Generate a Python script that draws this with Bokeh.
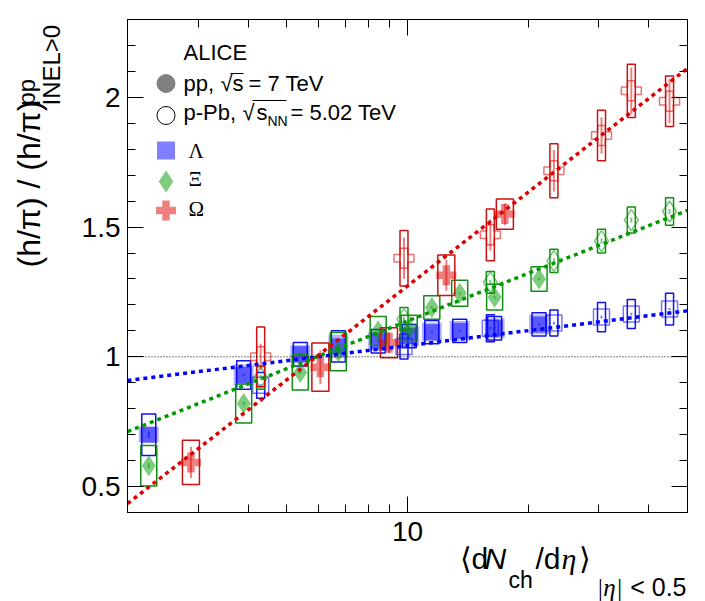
import math
from bokeh.plotting import figure
from bokeh.layouts import column, row
from bokeh.models import (FixedTicker, LinearAxis, LogAxis, Range1d, Label,
                          CustomJSTickFormatter, ColumnDataSource, Span)
from bokeh.embed import file_html
from bokeh.resources import INLINE

# ---------------- data ----------------
# pp, sqrt(s) = 7 TeV multiplicity classes
pp_x = [2.26, 3.90, 5.40, 6.72, 8.45, 10.1, 11.5, 13.5, 16.5, 21.3]
lam_pp_y = [0.70, 0.93, 1.01, 1.04, 1.06, 1.08, 1.095, 1.10, 1.11, 1.125]
lam_pp_stat = [0.012, 0.005, 0.004, 0.004, 0.004, 0.004, 0.004, 0.004, 0.004, 0.004]
lam_pp_sys = [0.08, 0.055, 0.045, 0.06, 0.045, 0.045, 0.045, 0.045, 0.045, 0.045]
lam_pp_sys_unc = [0.03, 0.04, 0.035, 0.045, 0.037, 0.037, 0.037, 0.038, 0.038, 0.038]
xi_pp_y = [0.58, 0.82, 0.94, 1.02, 1.10, 1.11, 1.19, 1.245, 1.23, 1.30]
xi_pp_stat = [0.01, 0.006, 0.005, 0.005, 0.005, 0.005, 0.005, 0.005, 0.005, 0.005]
xi_pp_sys = [0.078, 0.075, 0.068, 0.074, 0.055, 0.05, 0.045, 0.05, 0.05, 0.047]
om_pp_x = [2.88, 6.06, 8.99, 12.5, 17.5]
om_pp_y = [0.593, 0.96, 1.054, 1.314, 1.55]
om_pp_stat = [0.06, 0.065, 0.04, 0.06, 0.042]
om_pp_sys = [0.085, 0.093, 0.058, 0.078, 0.058]

# p-Pb, sqrt(s_NN) = 5.02 TeV multiplicity classes
ppb_x = [4.3, 9.8, 16.1, 23.2, 30.5, 36.2, 45.1]
lam_ppb_y = [0.89, 1.04, 1.11, 1.13, 1.153, 1.165, 1.184]
lam_ppb_stat = [0.005, 0.005, 0.005, 0.005, 0.005, 0.005, 0.005]
lam_ppb_sys = [0.05, 0.048, 0.052, 0.05, 0.056, 0.056, 0.061]
xi_ppb_y = [0.92, 1.145, 1.287, 1.37, 1.446, 1.527, 1.56]
xi_ppb_stat = [0.01, 0.01, 0.01, 0.01, 0.01, 0.01, 0.01]
xi_ppb_sys = [0.045, 0.045, 0.042, 0.045, 0.046, 0.05, 0.053]
om_ppb_y = [1.0, 1.38, 1.47, 1.717, 1.853, 2.025, 1.985]
om_ppb_stat = [0.05, 0.08, 0.06, 0.08, 0.07, 0.09, 0.085]
om_ppb_sys = [0.115, 0.107, 0.10, 0.104, 0.097, 0.103, 0.097]

# fits: y = a + b*log10(x)
fit_names = ["lam", "xi", "om"]
fit_a = [0.851, 0.528, 0.073]
fit_b = [0.192, 0.610, 1.200]

x_ticks = [10]
x_minor = [3, 4, 5, 6, 7, 8, 9, 20, 30, 40]
y_ticks = [0.5, 1, 1.5, 2]
y_minor = [0.4, 0.6, 0.7, 0.8, 0.9, 1.1, 1.2, 1.3, 1.4, 1.6, 1.7, 1.8, 1.9, 2.1, 2.2, 2.3]

X0, X1 = 2, 50
Y0, Y1 = 0.4, 2.3

# ---------------- layout ----------------
W, H = 705, 601
FL, FR, FT, FB = 127, 687, 19, 512   # frame edges in page px

p = figure(width=W, height=H, x_axis_type="log",
           x_range=Range1d(X0, X1), y_range=Range1d(Y0, Y1),
           output_backend="svg", toolbar_location=None,
           min_border_left=FL, min_border_right=W - FR,
           min_border_top=FT, min_border_bottom=H - FB)
p.background_fill_color = "white"
p.border_fill_color = "white"
p.outline_line_color = "black"
p.outline_line_width = 1
p.grid.visible = False

xt = FixedTicker(ticks=x_ticks, minor_ticks=x_minor)
yt = FixedTicker(ticks=y_ticks, minor_ticks=y_minor)
fmt = CustomJSTickFormatter(code="return tick.toString()")
blank = CustomJSTickFormatter(code="return ''")


def style_axis(ax, labels=True, standoff=7):
    ax.axis_line_color = "black"
    ax.axis_line_width = 1
    ax.major_tick_in = 16
    ax.major_tick_out = 0
    ax.minor_tick_in = 8
    ax.minor_tick_out = 0
    ax.major_tick_line_color = "black"
    ax.minor_tick_line_color = "black"
    if labels:
        ax.major_label_text_font = "Liberation Sans"
        ax.major_label_text_font_size = "28px"
        ax.major_label_text_color = "black"
        ax.major_label_standoff = standoff
    else:
        ax.major_label_text_font_size = "0px"
        ax.major_label_standoff = 0


p.xaxis.ticker = xt
p.xaxis.formatter = fmt
style_axis(p.xaxis[0], True, 9)
p.yaxis.ticker = yt
p.yaxis.formatter = fmt
style_axis(p.yaxis[0], True, 7)

top = LogAxis(ticker=xt, formatter=blank)
style_axis(top, False)
p.add_layout(top, "above")
right = LinearAxis(ticker=yt, formatter=blank)
style_axis(right, False)
p.add_layout(right, "right")

# reference line at 1
p.add_layout(Span(location=1, dimension="width", line_color="black",
                  line_width=1, line_dash="1 2"))

BLUE, GREEN, RED = "#0000ff", "#009900", "#dd0000"
BOX = {"lam": "#1010ee", "xi": "#109010", "om": "#cc1111"}
COL = {"lam": BLUE, "xi": GREEN, "om": RED}
MK = {"lam": ("square", 16), "xi": ("diamond", 21), "om": ("plus", 20)}

PX_DEC = (FR - FL) / math.log10(X1 / X0)


def fac(px):
    return 10 ** (px / PX_DEC)


def draw(key, xs, ys, stat, sys, filled, half_px, unc=None):
    f = fac(half_px)
    src = ColumnDataSource(dict(
        x=xs, y=ys,
        l=[v / f for v in xs], r=[v * f for v in xs],
        b=[y - s for y, s in zip(ys, sys)], t=[y + s for y, s in zip(ys, sys)],
        y0=[y - s for y, s in zip(ys, stat)], y1=[y + s for y, s in zip(ys, stat)]))
    if unc is not None:
        g = fac(10)
        p.quad(left=[v / g for v in xs], right=[v * g for v in xs],
               bottom=[y - s for y, s in zip(ys, unc)],
               top=[y + s for y, s in zip(ys, unc)],
               fill_color=COL[key], fill_alpha=0.3, line_color=None)
    p.quad(left="l", right="r", bottom="b", top="t", source=src,
           fill_color=None, line_color=BOX[key], line_width=1.5)
    m, sz = MK[key]
    if filled:
        p.scatter("x", "y", source=src, marker=m, size=sz,
                  fill_color=COL[key], fill_alpha=0.5, line_color=None)
    else:
        p.scatter("x", "y", source=src, marker=m, size=sz,
                  fill_color=None, line_color=COL[key], line_alpha=0.55,
                  line_width=1.5)
    p.segment(x0="x", y0="y0", x1="x", y1="y1", source=src,
              line_color=COL[key], line_alpha=0.5, line_width=2)


draw("lam", pp_x, lam_pp_y, lam_pp_stat, lam_pp_sys, True, 7, lam_pp_sys_unc)
draw("lam", ppb_x, lam_ppb_y, lam_ppb_stat, lam_ppb_sys, False, 4)
draw("xi", pp_x, xi_pp_y, xi_pp_stat, xi_pp_sys, True, 8)
draw("xi", ppb_x, xi_ppb_y, xi_ppb_stat, xi_ppb_sys, False, 4)
draw("om", om_pp_x, om_pp_y, om_pp_stat, om_pp_sys, True, 8.5)
draw("om", ppb_x, om_ppb_y, om_ppb_stat, om_ppb_sys, False, 4)

for name, a, b in zip(fit_names, fit_a, fit_b):
    fx = [X0, X1]
    fy = [a + b * math.log10(v) for v in fx]
    p.line(fx, fy, line_color=COL[name], line_width=3.5, line_dash="4 4")


# ---------------- transparent text overlays (page pixel coordinates) ----------------
def overlay(bl, br, bt, bb, shift):
    o = figure(width=W, height=H,
               x_range=Range1d(bl, W - br), y_range=Range1d(H - bb, bt),
               output_backend="svg", toolbar_location=None,
               x_axis_location=None, y_axis_location=None,
               min_border_left=bl, min_border_right=br,
               min_border_top=bt, min_border_bottom=bb)
    o.grid.visible = False
    o.outline_line_color = None
    o.background_fill_color = None
    o.border_fill_color = None
    if shift == "left":
        o.margin = (0, 0, 0, -W)
        o.styles = {"margin-left": f"-{W}px"}
    else:
        o.margin = (-H, 0, 0, 0)
        o.styles = {"margin-top": f"-{H}px"}
    return o


oy = overlay(0, 0, FT, H - FB, "left")    # shares the vertical frame of p
ox = overlay(FL, W - FR, 0, 0, "top")     # shares the horizontal frame of p

K = 0.37   # baseline correction (fraction of font size)


def lab(o, text, px, py, size, font="Liberation Sans", style="normal",
        rot=False, align="left"):
    if rot:
        px, py, ang = px - K * size, py, math.pi / 2
    else:
        px, py, ang = px, py - K * size, 0.0
    o.add_layout(Label(x=px, y=py, text=text, text_font=font,
                       text_font_size=f"{size}px", text_font_style=style,
                       angle=ang, text_align=align,
                       text_baseline="alphabetic", text_color="black"))


# legend
lab(oy, "ALICE", 183, 60, 22)
lab(oy, "pp,", 183, 91, 22)
lab(oy, "\u221a", 220, 91, 22)
lab(oy, "s", 232, 91, 22)
lab(oy, "= 7 TeV", 248, 91, 22)
lab(oy, "p-Pb,", 183, 120, 22)
lab(oy, "\u221a", 242, 120, 22)
lab(oy, "s", 256, 120, 22)
lab(oy, "NN", 267, 126, 14)
lab(oy, "= 5.02 TeV", 290, 120, 22)
lab(oy, "\u039b", 188, 158, 21, font="Liberation Serif")
lab(oy, "\u039e", 188, 186, 21, font="Liberation Serif")
lab(oy, "\u03a9", 188, 216, 21, font="Liberation Serif")
oy.segment(x0=[230, 252], y0=[73, 100], x1=[243, 286], y1=[73, 100],
           line_color="black", line_width=1.2)
oy.scatter([165.5], [83], marker="circle", size=18,
           fill_color="#808080", line_color="#808080")
oy.scatter([165.5], [115], marker="circle", size=18,
           fill_color=None, line_color="black", line_width=1)
oy.scatter([165.5], [150], marker="square", size=18,
           fill_color=BLUE, fill_alpha=0.5, line_color=None)
oy.scatter([165.5], [181], marker="diamond", size=22,
           fill_color=GREEN, fill_alpha=0.5, line_color=None)
oy.scatter([165.5], [210], marker="plus", size=20,
           fill_color=RED, fill_alpha=0.5, line_color=None)

# y title (rotated, reading upwards)
lab(oy, "(h/\u03c0) / (h/\u03c0)", 40, 267, 32, rot=True)
lab(oy, "pp", 35, 105, 24, rot=True)
lab(oy, "INEL>0", 60, 105, 24, rot=True)

# x title
lab(ox, "\u27e8d", 459, 569, 30)
lab(ox, "N", 484, 569, 30, style="italic")
lab(ox, "ch", 508, 588, 23)
lab(ox, "/d", 535, 569, 30)
lab(ox, "\u03b7", 561, 569, 30, font="Liberation Serif", style="italic")
lab(ox, "\u27e9", 578, 569, 30)
lab(ox, "|\u03b7|", 596, 596, 25, font="Liberation Serif", style="italic")
lab(ox, "< 0.5", 686, 596, 25, align="right")

page = column(row(p, oy), ox)
open("out.html", "w").write(file_html(page, INLINE))
